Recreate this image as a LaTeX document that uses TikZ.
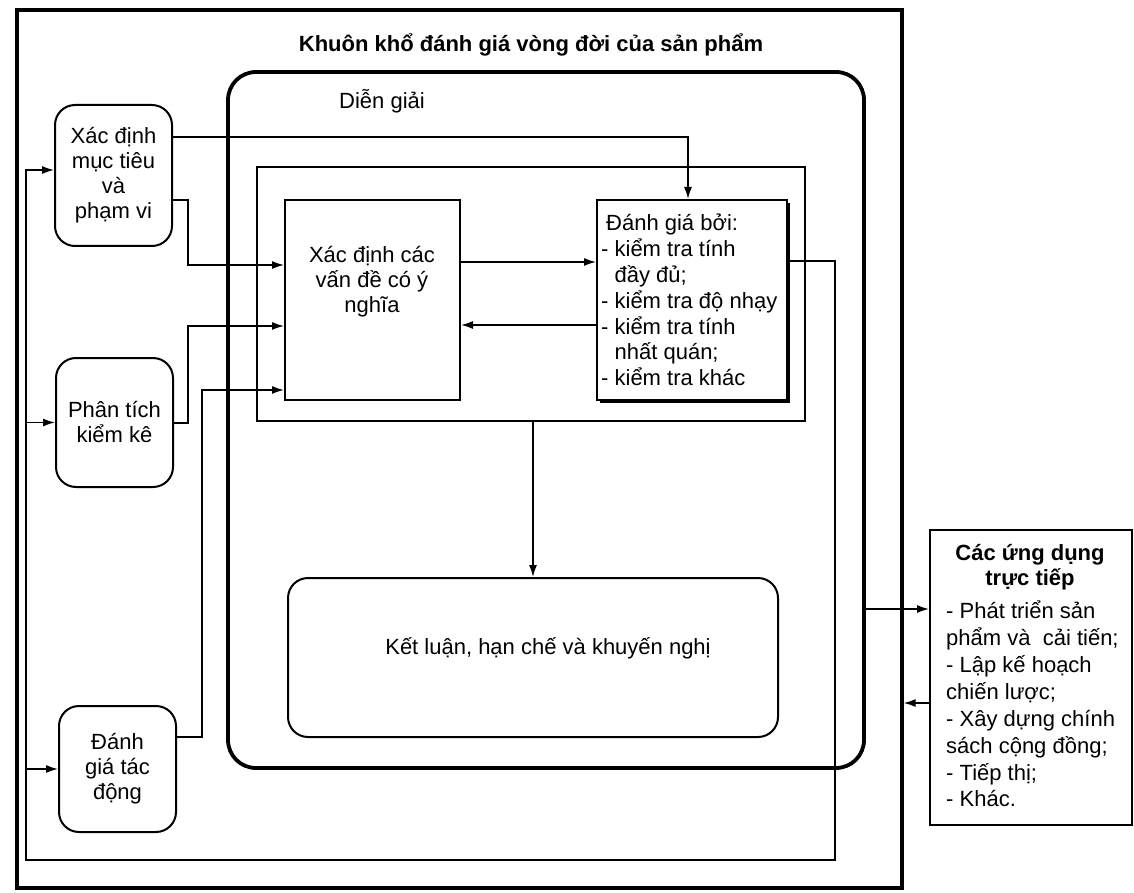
\documentclass[tikz,border=0pt]{standalone}
\usepackage{fontspec}
\setmainfont{Liberation Sans}
\usetikzlibrary{arrows.meta,shadows}
\begin{document}
\begin{tikzpicture}[x=1pt,y=-1pt,
  font=\fontsize{22}{25}\selectfont,
  plainbox/.style={draw, line width=2pt, inner sep=0pt},
  rbox/.style={draw, line width=2pt, rounded corners=20pt, align=center, inner sep=0pt},
  conn/.style={line width=1.5pt},
  arr/.style={conn, -{Latex[length=12pt,width=8pt]}},
  lbl/.style={inner sep=0pt}
]
\useasboundingbox (0,0) rectangle (1134,893);
\fill[white] (0,0) rectangle (1134,893);

% outer frame
\node[draw, line width=3.2pt, minimum width=885pt, minimum height=878pt, inner sep=0pt] (outer) at (459.5,449) {};
\node[lbl, font=\fontsize{22}{25}\selectfont\bfseries] (title) at (531,45) {Khuôn khổ đánh giá vòng đời của sản phẩm};

% interpretation
\node[draw, line width=3.8pt, rounded corners=28pt, minimum width=636pt, minimum height=696pt, inner sep=0pt] (big) at (546,420) {};
\node[lbl] (dg) at (382,101) {Diễn giải};
\node[draw, line width=2.2pt, minimum width=548pt, minimum height=254pt, inner sep=0pt] (inner) at (531,294) {};

\node[plainbox, minimum width=175pt, minimum height=200pt] (sig) at (372.5,300) {};
\node[lbl, align=center] (sigt) at (372,282) {Xác định các\\vấn đề có ý\\nghĩa};

\node[plainbox, fill=white, minimum width=190pt, minimum height=200pt,
  drop shadow={fill=black, opacity=1, shadow xshift=3pt, shadow yshift=-3pt}] (eval) at (692,300) {};
\node[lbl, anchor=west, align=left, font=\fontsize{22}{25.8}\selectfont] (evalt) at (601,300)
  {\hspace*{5pt}Đánh giá bởi:\\- kiểm tra tính\\\phantom{- }đầy đủ;\\- kiểm tra độ nhạy\\- kiểm tra tính\\\phantom{- }nhất quán;\\- kiểm tra khác};

\node[rbox, minimum width=490pt, minimum height=159pt] (concl) at (533,657.5) {};
\node[lbl] (conclt) at (548,648) {Kết luận, hạn chế và khuyến nghị};

% left boxes
\node[rbox, minimum width=117pt, minimum height=141pt] (goal) at (113.5,175.5) {Xác định\\mục tiêu\\và\\phạm vi};
\node[rbox, minimum width=117pt, minimum height=129pt] (inv) at (114.5,422.5) {Phân tích\\kiểm kê};
\node[rbox, minimum width=117pt, minimum height=126pt] (imp) at (117.5,769) {Đánh\\giá tác\\động};

% applications
\node[plainbox, minimum width=202pt, minimum height=295pt] (app) at (1031,677.5) {};
\node[lbl, align=center, font=\fontsize{22}{25}\selectfont\bfseries] (appt) at (1030,567.5) {Các ứng dụng\\trực tiếp};
\node[lbl, anchor=west, align=left, font=\fontsize{22}{26.9}\selectfont] (appl) at (946,704)
  {- Phát triển sản\\phẩm và\ \ cải tiến;\\- Lập kế hoạch\\chiến lược;\\- Xây dựng chính\\sách cộng đồng;\\- Tiếp thị;\\- Khác.};

% connectors
\draw[arr] ([yshift=38.5pt]goal.east) -| ([xshift=-4pt]eval.north);
\draw[arr] ([yshift=-24.5pt]goal.east) -- ++(15,0) |- ([yshift=35pt]sig.west);
\draw[arr] ([yshift=-0.5pt]inv.east) -- ++(14,0) |- ([yshift=-26pt]sig.west);
\draw[arr] ([yshift=32pt]imp.east) -- ++(25,0) |- ([yshift=-90pt]sig.west);
\draw[arr] ([yshift=38pt]sig.east) -- ([yshift=38pt]eval.west);
\draw[arr] ([yshift=-25pt]eval.west) -- ([yshift=-25pt]sig.east);
\draw[arr] (inner.south -| concl.north) -- (concl.north);

\coordinate (fbl) at (26,860);
\draw[arr] ([yshift=39pt]eval.east) -- ++(47,0) |- (fbl) |- ([yshift=5.5pt]goal.west);
\draw[arr] (fbl |- inv.west) -- (inv.west);
\draw[arr] (fbl |- imp.west) -- (imp.west);

\coordinate (r1) at (900,609);
\coordinate (r2) at (900,703);
\draw[arr] (big.east |- r1) -- (app.west |- r1);
\draw[arr] (app.west |- r2) -- (outer.east |- r2);
\end{tikzpicture}
\end{document}
